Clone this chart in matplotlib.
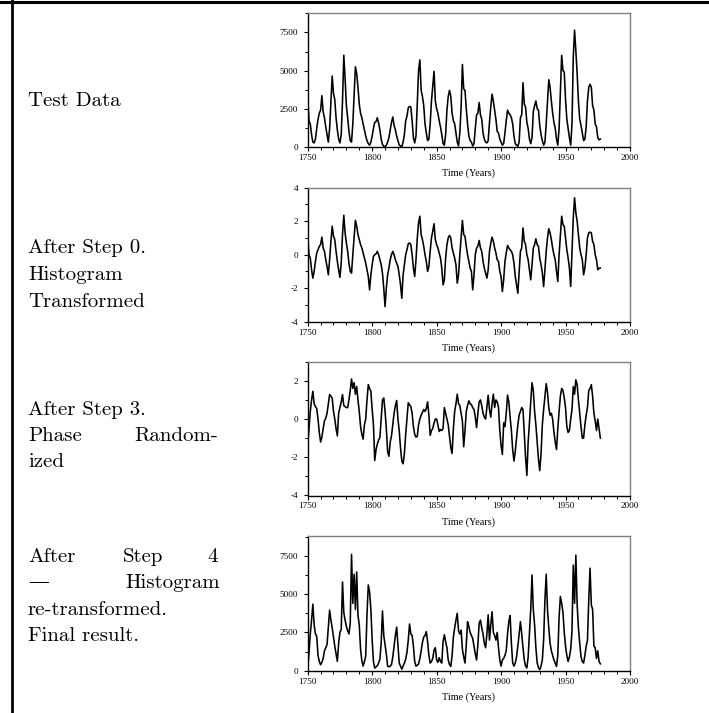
import matplotlib
matplotlib.use('Agg')
import matplotlib.pyplot as plt
from matplotlib.lines import Line2D
from matplotlib.ticker import MultipleLocator
import numpy as np

plt.rcParams['font.family'] = 'Liberation Serif'
plt.rcParams['axes.unicode_minus'] = False

# yearly values, 1750 .. 1977
start_year = 1750

# test data (sunspot-like series)
ts_test = [
    3280, 1700, 1500, 800, 300, 250, 500, 1200, 1800, 2200,
    2400, 3350, 2300, 1900, 1300, 800, 300, 1200, 2900, 4640,
    3500, 3100, 1900, 1100, 500, 250, 800, 3000, 6000, 4500,
    2700, 1900, 1000, 400, 300, 1500, 3300, 5250, 4800, 3900,
    2800, 2200, 1900, 1500, 1100, 700, 400, 200, 100, 300,
    700, 1200, 1600, 1650, 1900, 1550, 1100, 500, 150, 30,
    0, 100, 300, 600, 1100, 1600, 1950, 1400, 1100, 700,
    400, 100, 50, 0, 300, 800, 1700, 2000, 2550, 2650,
    2600, 1700, 600, 250, 700, 2800, 5000, 5700, 3700, 3300,
    2700, 1500, 900, 400, 500, 1500, 3000, 4000, 4950, 3000,
    2500, 2200, 1700, 1300, 800, 200, 100, 800, 2400, 3300,
    3700, 3300, 2200, 1700, 1500, 900, 300, 50, 900, 2600,
    5400, 3800, 3700, 2500, 1500, 700, 400, 300, 50, 200,
    1200, 2100, 2200, 2900, 2100, 1800, 900, 500, 300, 250,
    400, 1600, 2600, 3450, 3000, 2400, 1800, 1000, 900, 500,
    300, 100, 200, 900, 1700, 2400, 2200, 2100, 1900, 1500,
    700, 200, 100, 30, 300, 1900, 2100, 4200, 2800, 2600,
    1600, 1200, 500, 200, 600, 2300, 2700, 3000, 2500, 2400,
    1400, 800, 400, 100, 300, 1500, 3000, 4400, 3900, 3000,
    2200, 1600, 1200, 500, 100, 1200, 3600, 6000, 5000, 4900,
    3100, 1800, 1200, 600, 100, 1500, 5900, 7650, 6300, 4800,
    3000, 1800, 1400, 900, 400, 500, 1300, 3000, 3900, 4100,
    3900, 2700, 2400, 1500, 1300, 600, 450, 500,
]

# after step 0: histogram transformed
ts_gauss = [
    1.05, 0.0, -0.2, -0.9, -1.4, -1.0, -0.4, 0.1, 0.3, 0.5,
    0.6, 1.05, 0.4, 0.2, -0.3, -0.7, -1.2, -0.3, 0.8, 1.7,
    1.1, 0.9, 0.2, -0.4, -0.9, -1.35, -0.5, 1.2, 2.35, 1.3,
    0.7, 0.2, -0.5, -1.0, -1.1, 0.0, 1.0, 2.05, 1.7, 1.2,
    0.9, 0.6, 0.4, 0.1, -0.2, -0.5, -0.9, -1.3, -2.1, -1.2,
    -0.6, -0.1, 0.0, 0.05, 0.2, 0.0, -0.3, -0.6, -1.1, -2.0,
    -3.1, -2.0, -1.2, -0.8, -0.3, 0.0, 0.2, 0.0, -0.3, -0.5,
    -0.7, -1.2, -1.8, -2.6, -1.2, -0.6, 0.0, 0.3, 0.65, 0.7,
    0.6, 0.0, -0.8, -1.3, -0.3, 1.0, 1.9, 2.3, 1.2, 0.9,
    0.5, 0.0, -0.4, -1.0, -0.7, 0.2, 1.0, 1.4, 1.85, 0.9,
    0.6, 0.4, 0.1, -0.2, -0.8, -1.8, -1.5, -0.2, 0.6, 1.0,
    1.15, 1.0, 0.4, 0.1, -0.2, -0.6, -1.7, -1.2, 0.0, 1.0,
    2.05, 1.2, 1.1, 0.5, 0.0, -0.4, -0.8, -1.0, -2.1, -1.2,
    0.0, 0.4, 0.5, 0.85, 0.4, 0.2, -0.4, -0.8, -1.1, -1.4,
    -0.9, 0.2, 0.7, 1.05, 0.8, 0.4, 0.1, -0.3, -0.4, -1.0,
    -1.3, -2.2, -1.5, -0.4, 0.1, 0.55, 0.4, 0.3, 0.2, 0.0,
    -0.5, -1.3, -1.8, -2.3, -1.0, 0.2, 0.4, 1.6, 0.8, 0.6,
    0.0, -0.3, -0.9, -1.5, -0.6, 0.4, 0.6, 0.95, 0.6, 0.5,
    -0.2, -0.6, -1.1, -1.9, -0.9, 0.2, 1.0, 1.55, 1.3, 0.9,
    0.4, 0.0, -0.3, -1.0, -1.6, 0.0, 1.2, 2.3, 1.8, 1.7,
    1.0, 0.3, -0.2, -0.8, -1.9, 0.2, 2.2, 3.4, 2.5, 2.0,
    1.2, 0.4, 0.0, -0.3, -1.2, -0.8, 0.0, 1.0, 1.3, 1.35,
    1.3, 0.8, 0.6, 0.0, -0.3, -0.9, -0.8, -0.8,
]

# after step 3: phase randomized
ts_phase = [
    -1.4, -0.5, 0.4, 1.0, 1.45, 0.8, 0.65, 0.55, 0.0, -0.7,
    -1.2, -0.95, -0.5, -0.1, 0.05, 0.3, 0.8, 1.28, 1.2, 1.1,
    0.4, 0.0, -0.5, -0.88, 0.3, 0.6, 0.9, 1.28, 0.7, 0.65,
    0.6, 0.6, 1.0, 1.5, 2.1, 1.6, 1.9, 1.3, 1.7, 1.0,
    0.4, -0.4, -0.8, -1.05, -0.3, 0.0, 1.0, 1.8, 1.6, 1.45,
    0.5, -0.3, -2.17, -1.6, -1.31, -1.1, -0.97, 0.0, 1.0, 1.1,
    0.4, -0.5, -1.7, -1.95, -1.2, -0.88, -0.3, 0.3, 0.7, 0.97,
    0.0, -0.62, -1.5, -2.2, -2.34, -1.8, -0.8, 0.0, 0.85, 0.75,
    0.65, 0.3, -0.4, -0.8, -0.95, -0.9, -0.3, 0.0, 0.2, 0.35,
    0.5, 0.4, 0.55, 0.9, 0.2, -0.85, -0.6, -0.5, -0.2, 0.0,
    0.0, -0.3, -0.65, -0.55, -0.6, -0.5, 0.6, 0.3, 0.0, -0.3,
    -0.9, -1.5, -1.8, -0.5, 0.4, 0.8, 1.3, 0.8, 0.7, 0.3,
    -0.1, -1.45, -0.6, 0.4, 0.7, 0.95, 0.8, 0.75, 0.6, 0.5,
    0.1, -0.45, 0.3, 0.9, 1.0, 0.7, 0.3, 0.1, 0.0, 0.6,
    1.25, 0.5, 0.1, 0.8, 1.3, 0.6, 1.0, 0.9, 0.6, -0.6,
    -1.4, -1.85, -0.2, -0.4, 0.3, 1.25, 0.9, 0.1, -0.6, -1.6,
    -2.2, -1.7, -1.0, -0.3, 0.2, 0.4, 0.6, 0.5, -0.7, -2.0,
    -2.95, -1.2, -0.2, 0.9, 1.9, 1.5, 0.4, -0.3, -1.2, -2.1,
    -2.7, -1.8, -0.3, 0.5, 1.2, 1.85, 1.4, 0.6, 0.2, 0.3,
    0.0, -0.7, -1.2, -1.6, -0.5, 0.4, 1.2, 1.6, 1.5, 1.1,
    0.6, -0.4, -0.7, -0.6, 0.0, 0.5, 1.7, 1.3, 2.05, 1.8,
    1.0, 0.3, -0.4, -1.0, -1.0, -0.3, 0.2, 0.6, 1.5, 1.6,
    1.8, 1.2, 0.3, -0.1, -0.6, 0.0, -0.5, -1.0,
]

# after step 4: histogram re-transformed
ts_final = [
    170, 1150, 2400, 3300, 4350, 3000, 2400, 2250, 1000, 600,
    390, 550, 800, 1300, 1500, 1700, 2800, 3950, 3300, 2800,
    2200, 1600, 1100, 610, 1800, 2500, 2700, 5800, 3800, 3300,
    2900, 2600, 2400, 3100, 7600, 4400, 6300, 4000, 6450, 3600,
    3000, 1400, 650, 300, 600, 950, 3700, 5600, 5150, 4000,
    2000, 600, 170, 250, 330, 500, 750, 1800, 3900, 2300,
    1700, 1100, 300, 250, 300, 400, 900, 1600, 2300, 2850,
    1700, 500, 300, 100, 300, 500, 750, 1200, 2000, 3050,
    2400, 2300, 1600, 600, 300, 350, 450, 800, 1300, 1850,
    2200, 2300, 2550, 1900, 1000, 500, 600, 800, 1350, 1500,
    700, 550, 850, 600, 500, 1900, 2350, 1900, 1500, 700,
    400, 280, 1000, 2200, 2800, 3300, 3750, 2600, 2400, 2650,
    1400, 900, 500, 1700, 3200, 2900, 2500, 2300, 2100, 1600,
    1100, 700, 1700, 3100, 3300, 2800, 2400, 1800, 1500, 2400,
    3650, 2000, 3000, 3850, 2500, 2300, 2000, 2500, 1500, 700,
    300, 700, 800, 1000, 1300, 2400, 3200, 3600, 1800, 500,
    300, 500, 900, 1600, 2400, 3200, 2400, 1500, 700, 300,
    180, 900, 2400, 4000, 6250, 4000, 3000, 1500, 500, 200,
    70, 300, 700, 2000, 4600, 6300, 4000, 2800, 1800, 1300,
    1000, 700, 500, 280, 1000, 3500, 4850, 4400, 3800, 2500,
    1600, 1000, 600, 900, 1400, 2600, 6900, 4400, 7550, 4300,
    2800, 1800, 900, 600, 500, 1000, 1600, 2000, 4600, 6700,
    4300, 4000, 1600, 1500, 800, 1300, 600, 450,
]

years = start_year + np.arange(len(ts_test))

W, H = 709, 713
fig = plt.figure(figsize=(W / 100, H / 100), dpi=100)

# (series, top px, bottom px, ylim, major step, minor step)
panels = [
    (ts_test, 12.7, 146.7, (0, 8800), 2500, 1250),
    (ts_gauss, 187.7, 321.7, (-4, 4), 2, 1),
    (ts_phase, 361.7, 495.5, (-4, 3), 2, 1),
    (ts_final, 536.0, 670.7, (0, 8800), 2500, 1250),
]

for series, top, bottom, ylim, major, minor in panels:
    ax = fig.add_axes([307.7 / W, 1 - bottom / H, 322.3 / W, (bottom - top) / H])
    ax.plot(years, series, color='black', lw=1.15)
    ax.set_xlim(1750, 2000)
    ax.set_ylim(*ylim)
    ax.xaxis.set_major_locator(MultipleLocator(50))
    ax.xaxis.set_minor_locator(MultipleLocator(10))
    ax.yaxis.set_major_locator(MultipleLocator(major))
    ax.yaxis.set_minor_locator(MultipleLocator(minor))
    ax.tick_params(which='major', direction='out', length=3, width=0.8, labelsize=6.6, pad=2)
    ax.tick_params(axis='y', which='major', pad=4)
    ax.tick_params(which='minor', direction='out', length=2, width=0.7)
    for side in ['left', 'bottom']:
        ax.spines[side].set_color('black')
        ax.spines[side].set_linewidth(1.0)
    for side in ['top', 'right']:
        ax.spines[side].set_color('#808080')
        ax.spines[side].set_linewidth(1.0)
    ax.set_xlabel('Time (Years)', fontsize=7.3, labelpad=5)

# left column text (Computer Modern, DejaVu Serif for the em dash)
cm = dict(family=['cmr10', 'DejaVu Serif'], fontsize=15, va='baseline', color='black')
x0 = 28 / W
def fy(y):
    return 1 - y / H

fig.text(x0, fy(106), 'Test Data', **cm)

fig.text(x0, fy(253), 'After Step 0.', **cm)
fig.text(x0, fy(280), 'Histogram', **cm)
fig.text(x0, fy(307), 'Transformed', **cm)

fig.text(x0, fy(415), 'After Step 3.', **cm)
fig.text(x0, fy(441), 'Phase', **cm)
fig.text(218 / W, fy(441), 'Random-', ha='right', **cm)
fig.text(x0, fy(467), 'ized', **cm)

fig.text(x0, fy(562), 'After', **cm)
fig.text(123 / W, fy(562), 'Step', **cm)
fig.text(218 / W, fy(562), '4', ha='right', **cm)
fig.text(x0, fy(588), '\u2014', **cm)
fig.text(220 / W, fy(588), 'Histogram', ha='right', **cm)
fig.text(x0, fy(615), 're-transformed.', **cm)
fig.text(x0, fy(641), 'Final result.', **cm)

# table frame: top rule and left rule
fig.add_artist(Line2D([0, 1], [fy(1.5), fy(1.5)], color='black', lw=2.2))
fig.add_artist(Line2D([11.7 / W, 11.7 / W], [0, 1], color='black', lw=2.0))

fig.savefig('out.png', dpi=100)
